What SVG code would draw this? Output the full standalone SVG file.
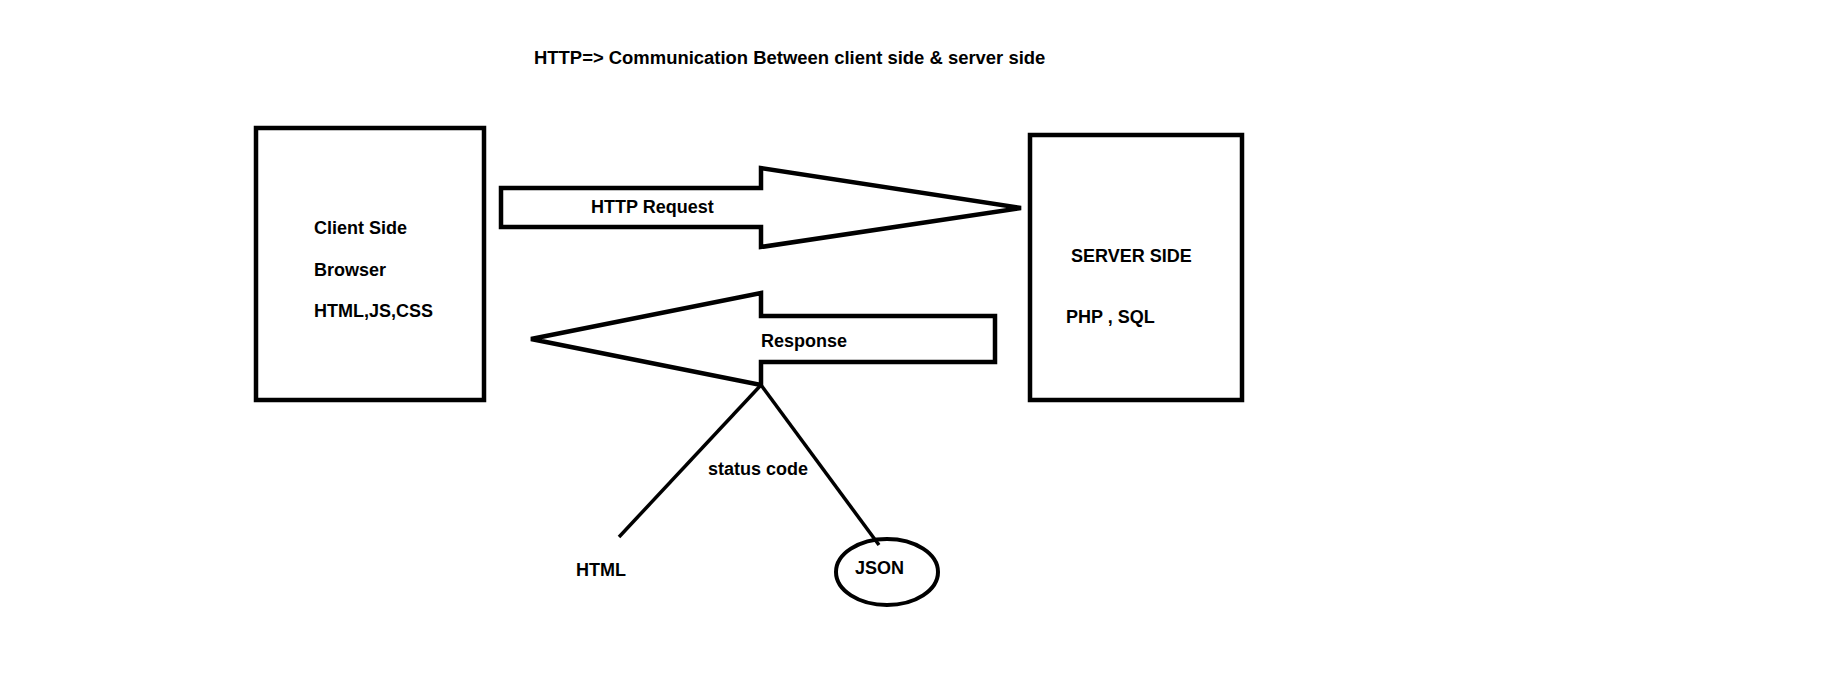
<svg xmlns="http://www.w3.org/2000/svg" width="1827" height="680" viewBox="0 0 1827 680">
<style>
text{font-family:"Liberation Sans",Arial,sans-serif;font-weight:bold;font-size:18px;fill:#000}
text.title{font-size:18.45px}
.box{fill:#fff;stroke:#000;stroke-width:4.5}
.arrow{fill:#fff;stroke:#000;stroke-width:4.5;stroke-linejoin:miter}
.line{stroke:#000;stroke-width:3.5;fill:none}
</style>
<rect width="1827" height="680" fill="#fff"/>
<g id="title"><text class="title" x="534" y="64">HTTP=&gt; Communication Between client side &amp; server side</text></g>
<g id="client">
<rect class="box" x="256" y="128" width="228" height="272"/>
<text x="314" y="234">Client Side</text>
<text x="314" y="276">Browser</text>
<text x="314" y="317">HTML,JS,CSS</text>
</g>
<g id="server">
<rect class="box" x="1030" y="135" width="212" height="265"/>
<text x="1071" y="262">SERVER SIDE</text>
<text x="1066" y="323">PHP , SQL</text>
</g>
<g id="connectors">
<g id="request">
<polygon class="arrow" points="501,188 761,188 761,168 1021,208 761,247 761,227 501,227"/>
<text x="591" y="213">HTTP Request</text>
</g>
<g id="response">
<polygon class="arrow" points="531,339 761,293 761,316 995,316 995,362 761,362 761,385"/>
<text x="761" y="347">Response</text>
</g>
<line class="line" x1="761" y1="385" x2="619" y2="537"/>
<line class="line" x1="761" y1="385" x2="879" y2="545"/>
<text x="708" y="475">status code</text>
</g>
<g id="html"><text x="576" y="576">HTML</text></g>
<g id="json">
<ellipse cx="887" cy="572" rx="51" ry="33" fill="none" stroke="#000" stroke-width="4"/>
<text x="855" y="574">JSON</text>
</g>
</svg>
